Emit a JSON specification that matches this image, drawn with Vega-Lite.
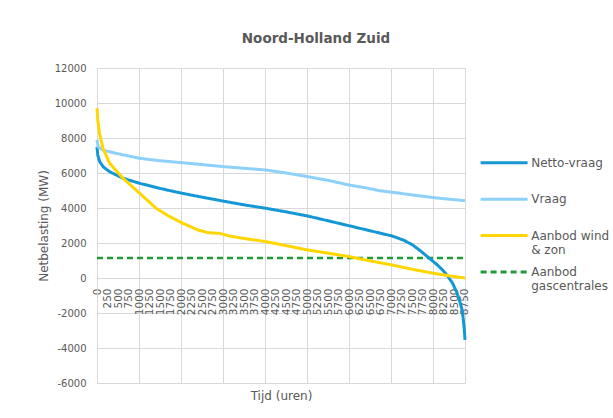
{
  "$schema": "https://vega.github.io/schema/vega-lite/v6.json",
  "width": 368,
  "height": 315,
  "autosize": {"type": "none"},
  "padding": {"left": 97, "top": 68, "right": 148, "bottom": 35},
  "background": "white",
  "config": {
    "font": "DejaVu Sans",
    "view": {"stroke": "#d9d9d9", "strokeWidth": 1},
    "axis": {"labelColor": "#595959", "titleColor": "#595959", "gridColor": "#d9d9d9", "domainColor": "#d9d9d9"}
  },
  "title": {
    "text": "Noord-Holland Zuid",
    "fontSize": 13.5,
    "fontWeight": "bold",
    "color": "#595959",
    "anchor": "middle",
    "dx": 35,
    "offset": 18
  },
  "data": {
    "values": [
      {"series": "Netto-vraag", "hour": 0, "value": 7500},
      {"series": "Netto-vraag", "hour": 20, "value": 7000},
      {"series": "Netto-vraag", "hour": 64, "value": 6650},
      {"series": "Netto-vraag", "hour": 150, "value": 6350},
      {"series": "Netto-vraag", "hour": 302, "value": 6070},
      {"series": "Netto-vraag", "hour": 620, "value": 5700},
      {"series": "Netto-vraag", "hour": 1015, "value": 5410},
      {"series": "Netto-vraag", "hour": 1500, "value": 5120},
      {"series": "Netto-vraag", "hour": 2030, "value": 4840},
      {"series": "Netto-vraag", "hour": 2500, "value": 4620},
      {"series": "Netto-vraag", "hour": 3037, "value": 4380},
      {"series": "Netto-vraag", "hour": 3500, "value": 4180},
      {"series": "Netto-vraag", "hour": 4028, "value": 3980},
      {"series": "Netto-vraag", "hour": 4500, "value": 3780},
      {"series": "Netto-vraag", "hour": 5020, "value": 3540},
      {"series": "Netto-vraag", "hour": 5500, "value": 3270},
      {"series": "Netto-vraag", "hour": 6010, "value": 2980},
      {"series": "Netto-vraag", "hour": 6500, "value": 2700},
      {"series": "Netto-vraag", "hour": 7025, "value": 2400},
      {"series": "Netto-vraag", "hour": 7300, "value": 2160},
      {"series": "Netto-vraag", "hour": 7515, "value": 1885},
      {"series": "Netto-vraag", "hour": 7700, "value": 1550},
      {"series": "Netto-vraag", "hour": 7912, "value": 1125},
      {"series": "Netto-vraag", "hour": 8100, "value": 750},
      {"series": "Netto-vraag", "hour": 8228, "value": 457},
      {"series": "Netto-vraag", "hour": 8350, "value": 100},
      {"series": "Netto-vraag", "hour": 8466, "value": -305},
      {"series": "Netto-vraag", "hour": 8560, "value": -800},
      {"series": "Netto-vraag", "hour": 8626, "value": -1257},
      {"series": "Netto-vraag", "hour": 8690, "value": -1800},
      {"series": "Netto-vraag", "hour": 8721, "value": -2400},
      {"series": "Netto-vraag", "hour": 8745, "value": -3000},
      {"series": "Netto-vraag", "hour": 8760, "value": -3540},
      {"series": "Vraag", "hour": 0, "value": 7900},
      {"series": "Vraag", "hour": 30, "value": 7500},
      {"series": "Vraag", "hour": 150, "value": 7300},
      {"series": "Vraag", "hour": 500, "value": 7100},
      {"series": "Vraag", "hour": 1015, "value": 6840},
      {"series": "Vraag", "hour": 1500, "value": 6700},
      {"series": "Vraag", "hour": 2030, "value": 6590},
      {"series": "Vraag", "hour": 2500, "value": 6480},
      {"series": "Vraag", "hour": 3037, "value": 6360},
      {"series": "Vraag", "hour": 3500, "value": 6270},
      {"series": "Vraag", "hour": 4028, "value": 6170},
      {"series": "Vraag", "hour": 4500, "value": 6000},
      {"series": "Vraag", "hour": 5020, "value": 5790},
      {"series": "Vraag", "hour": 5500, "value": 5580},
      {"series": "Vraag", "hour": 6010, "value": 5310},
      {"series": "Vraag", "hour": 6400, "value": 5150},
      {"series": "Vraag", "hour": 6723, "value": 4990},
      {"series": "Vraag", "hour": 7025, "value": 4900},
      {"series": "Vraag", "hour": 7500, "value": 4750},
      {"series": "Vraag", "hour": 8015, "value": 4590},
      {"series": "Vraag", "hour": 8400, "value": 4500},
      {"series": "Vraag", "hour": 8760, "value": 4420},
      {"series": "Aanbod wind & zon", "hour": 0, "value": 9700},
      {"series": "Aanbod wind & zon", "hour": 20, "value": 9000},
      {"series": "Aanbod wind & zon", "hour": 60, "value": 8270},
      {"series": "Aanbod wind & zon", "hour": 143, "value": 7410},
      {"series": "Aanbod wind & zon", "hour": 302, "value": 6550},
      {"series": "Aanbod wind & zon", "hour": 620, "value": 5700},
      {"series": "Aanbod wind & zon", "hour": 1015, "value": 4840},
      {"series": "Aanbod wind & zon", "hour": 1410, "value": 3980},
      {"series": "Aanbod wind & zon", "hour": 1700, "value": 3550},
      {"series": "Aanbod wind & zon", "hour": 2045, "value": 3125},
      {"series": "Aanbod wind & zon", "hour": 2400, "value": 2750},
      {"series": "Aanbod wind & zon", "hour": 2640, "value": 2590},
      {"series": "Aanbod wind & zon", "hour": 2918, "value": 2550},
      {"series": "Aanbod wind & zon", "hour": 3155, "value": 2400},
      {"series": "Aanbod wind & zon", "hour": 3500, "value": 2260},
      {"series": "Aanbod wind & zon", "hour": 4028, "value": 2075},
      {"series": "Aanbod wind & zon", "hour": 4500, "value": 1850},
      {"series": "Aanbod wind & zon", "hour": 5020, "value": 1600},
      {"series": "Aanbod wind & zon", "hour": 5500, "value": 1420},
      {"series": "Aanbod wind & zon", "hour": 6010, "value": 1220},
      {"series": "Aanbod wind & zon", "hour": 6500, "value": 980},
      {"series": "Aanbod wind & zon", "hour": 7025, "value": 743},
      {"series": "Aanbod wind & zon", "hour": 7500, "value": 500},
      {"series": "Aanbod wind & zon", "hour": 8015, "value": 267},
      {"series": "Aanbod wind & zon", "hour": 8400, "value": 120},
      {"series": "Aanbod wind & zon", "hour": 8760, "value": 0},
      {"series": "Aanbod gascentrales", "hour": 0, "value": 1150},
      {"series": "Aanbod gascentrales", "hour": 8760, "value": 1150}
    ]
  },
  "encoding": {
    "y": {
      "field": "value",
      "type": "quantitative",
      "scale": {"domain": [-6000, 12000], "nice": false, "zero": false},
      "axis": {
        "values": [-6000, -4000, -2000, 0, 2000, 4000, 6000, 8000, 10000, 12000],
        "labelExpr": "'' + datum.value",
        "ticks": false,
        "domain": true,
        "grid": true,
        "labelFontSize": 10,
        "labelPadding": 11,
        "title": "Netbelasting (MW)",
        "titleFontSize": 12,
        "titleFontWeight": "normal",
        "titleX": -54,
        "titleBaseline": "middle"
      }
    },
    "color": {
      "field": "series",
      "type": "nominal",
      "scale": {
        "domain": ["Netto-vraag", "Vraag", "Aanbod wind & zon", "Aanbod gascentrales"],
        "range": ["#1397d5", "#8dd1fb", "#ffd600", "#1f9b37"]
      },
      "legend": {
        "orient": "none",
        "legendX": 399.6,
        "legendY": 87.3,
        "title": null,
        "symbolType": "M-4,0H4",
        "symbolSize": 138,
        "symbolStrokeWidth": 3,
        "labelFontSize": 12,
        "labelColor": "#595959",
        "labelOffset": 19.6,
        "rowPadding": 8.4,
        "labelLimit": 200,
        "labelExpr": "datum.label == 'Aanbod wind & zon' ? ['Aanbod wind', '& zon'] : datum.label == 'Aanbod gascentrales' ? ['Aanbod', 'gascentrales'] : [datum.label, ' ']"
      }
    },
    "strokeDash": {
      "field": "series",
      "type": "nominal",
      "scale": {
        "domain": ["Netto-vraag", "Vraag", "Aanbod wind & zon", "Aanbod gascentrales"],
        "range": [[1, 0], [1, 0], [1, 0], [6, 4]]
      }
    }
  },
  "layer": [
    {
      "transform": [{"filter": "datum.series == 'Aanbod gascentrales'"}],
      "mark": {"type": "line", "strokeWidth": 2.5},
      "encoding": {
        "x": {
          "field": "hour",
          "type": "quantitative",
          "scale": {"domain": [0, 8760], "nice": false, "zero": false},
          "axis": {
            "orient": "bottom",
            "offset": -105,
            "values": [0, 250, 500, 750, 1000, 1250, 1500, 1750, 2000, 2250, 2500, 2750, 3000, 3250, 3500, 3750, 4000, 4250, 4500, 4750, 5000, 5250, 5500, 5750, 6000, 6250, 6500, 6750, 7000, 7250, 7500, 7750, 8000, 8250, 8500, 8750],
            "labelExpr": "'' + datum.value",
            "labelAngle": -90,
            "labelFontSize": 10.5,
            "labelPadding": 10,
            "labelOverlap": false,
            "labelBound": false,
            "labelFlush": false,
            "ticks": false,
            "domain": true,
            "grid": false,
            "title": "Tijd (uren)",
            "titleFontSize": 12,
            "titleFontWeight": "normal",
            "titleY": 117,
            "titleBaseline": "middle"
          }
        }
      }
    },
    {
      "transform": [{"filter": "datum.series != 'Aanbod gascentrales'"}],
      "mark": {"type": "line", "strokeWidth": 3},
      "encoding": {
        "x": {
          "field": "hour",
          "type": "quantitative",
          "axis": {
            "orient": "top",
            "values": [1000, 2000, 3000, 4000, 5000, 6000, 7000, 8000],
            "labels": false,
            "ticks": false,
            "domain": false,
            "grid": true,
            "title": null
          }
        }
      }
    }
  ],
  "resolve": {"axis": {"x": "independent"}}
}
